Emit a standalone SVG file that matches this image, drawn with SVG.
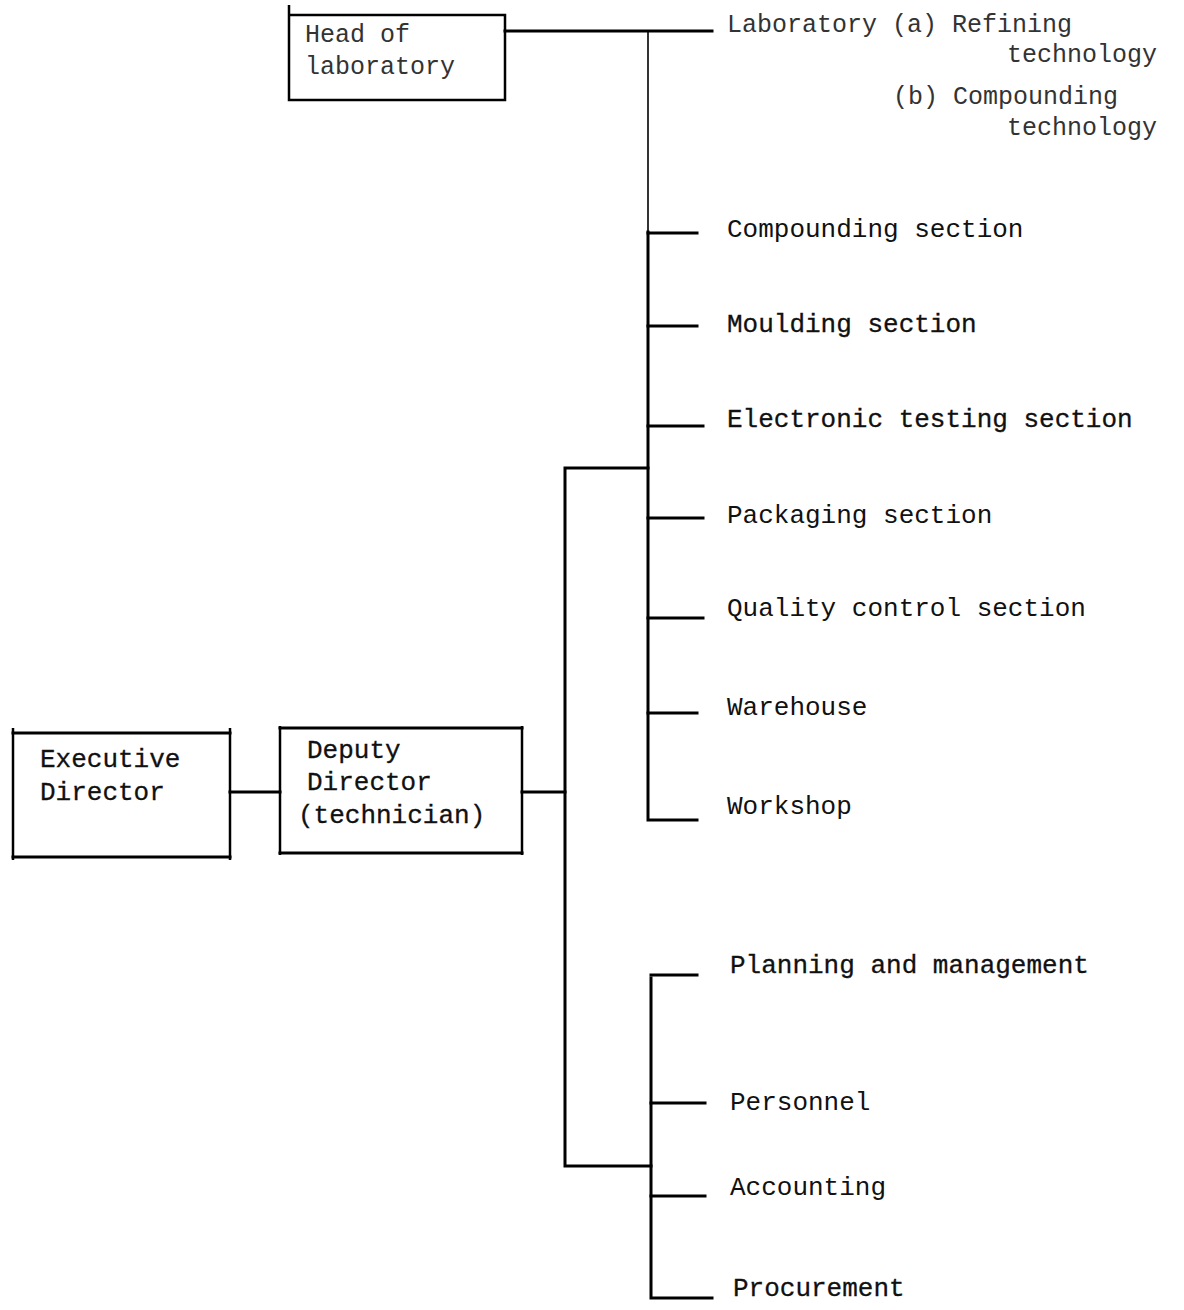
<svg xmlns="http://www.w3.org/2000/svg" width="1184" height="1310" viewBox="0 0 1184 1310">
<style>
text{font-family:"Liberation Mono","Courier New",monospace;font-size:26px;fill:#111}
.thin{font-size:25px;fill:#333}
.b{stroke:#111;stroke-width:0.3}
.ln{stroke:#000;stroke-width:3;fill:none;stroke-linecap:square}
.box{stroke:#000;stroke-width:2.5;fill:none}
</style>
<rect width="1184" height="1310" fill="#fff"/>
<g id="connectors">
<line class="ln" x1="505" y1="31" x2="712" y2="31"/>
<line x1="648" y1="31" x2="648" y2="232" stroke="#000" stroke-width="1.6"/>
<polyline class="ln" points="648,232 648,820 697,820"/>
<line class="ln" x1="648" y1="233" x2="697" y2="233"/>
<line class="ln" x1="648" y1="326" x2="697" y2="326"/>
<line class="ln" x1="648" y1="426" x2="703" y2="426"/>
<line class="ln" x1="648" y1="518" x2="703" y2="518"/>
<line class="ln" x1="648" y1="618" x2="703" y2="618"/>
<line class="ln" x1="648" y1="713" x2="697" y2="713"/>
<line class="ln" x1="230" y1="792" x2="280" y2="792"/>
<line class="ln" x1="522" y1="792" x2="565" y2="792"/>
<polyline class="ln" points="648,468 565,468 565,1166 651,1166"/>
<polyline class="ln" points="651,978 651,1298 712,1298"/>
<line class="ln" x1="651" y1="975" x2="697" y2="975"/>
<line class="ln" x1="651" y1="1103" x2="705" y2="1103"/>
<line class="ln" x1="651" y1="1196" x2="705" y2="1196"/>
</g>
<g id="head-of-laboratory">
<polyline class="box" points="289,5 289,100 505,100 505,15 289,15"/>
<text class="thin" x="305" y="42">Head of</text>
<text class="thin" x="305" y="74">laboratory</text>
</g>
<g id="executive-director">
<line class="box" x1="13" y1="728" x2="13" y2="860"/>
<line class="box" x1="230" y1="728" x2="230" y2="860"/>
<line class="ln" x1="13" y1="733" x2="230" y2="733"/>
<line class="ln" x1="13" y1="857" x2="230" y2="857"/>
<text class="b" x="40" y="767">Executive</text>
<text class="b" x="40" y="800">Director</text>
</g>
<g id="deputy-director">
<line class="box" x1="280" y1="726" x2="280" y2="855"/>
<line class="box" x1="522" y1="726" x2="522" y2="855"/>
<line class="ln" x1="280" y1="728" x2="522" y2="728"/>
<line class="ln" x1="280" y1="853" x2="522" y2="853"/>
<text class="b" x="307" y="758">Deputy</text>
<text class="b" x="307" y="790">Director</text>
<text class="b" x="298" y="823">(technician)</text>
</g>
<g id="laboratory">
<text class="thin" x="727" y="32">Laboratory (a)  Refining</text>
<text class="thin" x="1007" y="62">technology</text>
<text class="thin" x="893" y="104">(b)  Compounding</text>
<text class="thin" x="1007" y="135">technology</text>
</g>
<g id="compounding-section"><text x="727" y="237">Compounding section</text></g>
<g id="moulding-section"><text class="b" x="727" y="332">Moulding section</text></g>
<g id="electronic-testing-section"><text class="b" x="727" y="427">Electronic testing section</text></g>
<g id="packaging-section"><text x="727" y="523">Packaging section</text></g>
<g id="quality-control-section"><text x="727" y="616">Quality control section</text></g>
<g id="warehouse"><text x="727" y="715">Warehouse</text></g>
<g id="workshop"><text x="727" y="814">Workshop</text></g>
<g id="planning-and-management"><text class="b" x="730" y="973">Planning and management</text></g>
<g id="personnel"><text x="730" y="1110">Personnel</text></g>
<g id="accounting"><text x="730" y="1195">Accounting</text></g>
<g id="procurement"><text class="b" x="733" y="1296">Procurement</text></g>
</svg>
